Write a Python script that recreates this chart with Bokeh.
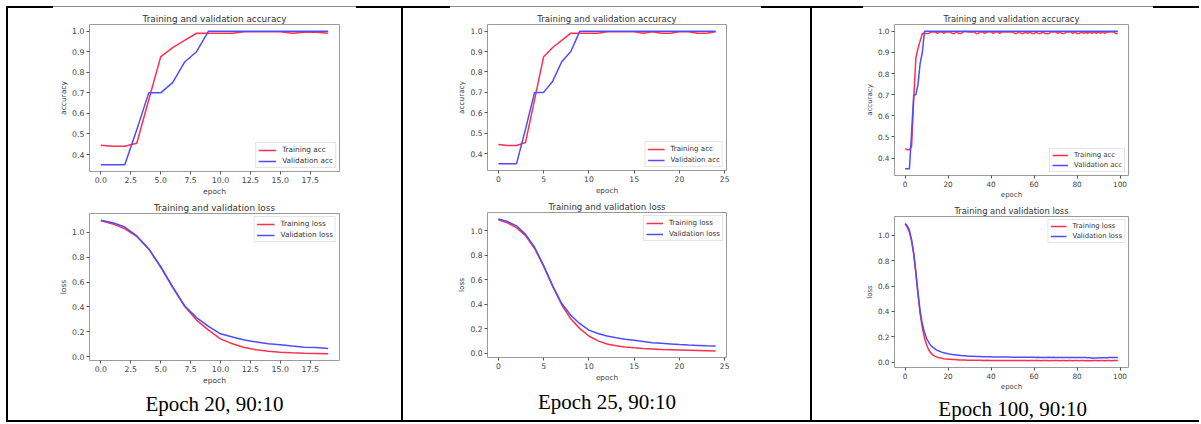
from bokeh.plotting import figure
from bokeh.layouts import row, column
from bokeh.models import Div, Range1d, FixedTicker, PrintfTickFormatter, Label
from bokeh.embed import file_html
from bokeh.resources import INLINE

# ---------------- data ----------------
captions = ["Epoch 20, 90:10", "Epoch 25, 90:10", "Epoch 100, 90:10"]

acc_train_20 = [0.445, 0.44, 0.44, 0.455, 0.665, 0.875, 0.92, 0.955, 0.99, 0.99,
                0.99, 0.99, 0.997, 0.997, 0.997, 0.997, 0.99, 0.995, 0.995, 0.99]
acc_val_20 = [0.35, 0.35, 0.35, 0.52, 0.70, 0.70, 0.75, 0.85, 0.90, 1.0,
              1.0, 1.0, 1.0, 1.0, 1.0, 1.0, 1.0, 1.0, 1.0, 1.0]
loss_train_20 = [1.09, 1.065, 1.025, 0.965, 0.865, 0.725, 0.56, 0.405, 0.295, 0.215,
                 0.145, 0.105, 0.075, 0.057, 0.046, 0.038, 0.033, 0.03, 0.028, 0.025]
loss_val_20 = [1.095, 1.075, 1.04, 0.97, 0.865, 0.72, 0.56, 0.41, 0.315, 0.245,
               0.185, 0.16, 0.135, 0.12, 0.105, 0.097, 0.087, 0.078, 0.075, 0.068]

acc_train_25 = [0.445, 0.44, 0.44, 0.455, 0.665, 0.875, 0.92, 0.955, 0.99, 0.99,
                0.99, 0.99, 0.997, 0.997, 0.997, 0.997, 0.99, 0.997, 0.99, 0.99,
                0.997, 0.997, 0.99, 0.99, 0.997]
acc_val_25 = [0.35, 0.35, 0.35, 0.52, 0.70, 0.70, 0.755, 0.85, 0.90, 1.0,
              1.0, 1.0, 1.0, 1.0, 1.0, 1.0, 1.0, 1.0, 1.0, 1.0,
              1.0, 1.0, 1.0, 1.0, 1.0]
loss_train_25 = [1.09, 1.065, 1.025, 0.96, 0.855, 0.71, 0.545, 0.395, 0.28, 0.2,
                 0.14, 0.1, 0.075, 0.06, 0.05, 0.043, 0.038, 0.034, 0.03, 0.028,
                 0.026, 0.024, 0.022, 0.02, 0.018]
loss_val_25 = [1.095, 1.075, 1.04, 0.97, 0.865, 0.715, 0.55, 0.405, 0.31, 0.24,
               0.188, 0.16, 0.14, 0.125, 0.113, 0.105, 0.095, 0.085, 0.08, 0.075,
               0.07, 0.066, 0.063, 0.06, 0.058]

acc_train_100 = [0.445, 0.44, 0.44, 0.455, 0.68, 0.875, 0.92, 0.955, 0.99, 0.99,
                 0.99, 0.99, 0.997, 0.997, 0.997, 0.99, 0.997, 0.997, 0.99, 0.997,
                 0.997, 0.997, 0.99, 0.99, 0.997, 0.99, 0.99, 0.997, 1.0, 0.997,
                 0.997, 0.997, 0.997, 0.99, 0.99, 0.997, 0.997, 0.99, 0.997, 0.997,
                 0.997, 0.99, 0.997, 0.997, 0.99, 0.997, 0.997, 0.997, 0.997, 0.997,
                 0.997, 0.99, 0.99, 0.997, 0.99, 0.99, 0.997, 0.99, 0.997, 0.99,
                 0.99, 0.997, 0.99, 0.99, 0.997, 0.99, 0.99, 0.99, 0.997, 0.997,
                 0.997, 0.99, 0.997, 0.99, 0.99, 0.997, 0.997, 0.997, 0.99, 0.997,
                 0.99, 0.99, 0.997, 0.99, 0.997, 0.99, 0.997, 0.99, 0.997, 0.99,
                 0.997, 0.99, 0.997, 0.99, 0.997, 0.997, 0.997, 0.997, 0.99, 0.99]
acc_val_100 = [0.35, 0.35, 0.35, 0.52, 0.70, 0.70, 0.75, 0.85, 0.90, 1.0,
               1.0, 1.0, 1.0, 1.0, 1.0, 1.0, 1.0, 1.0, 1.0, 1.0,
               1.0, 1.0, 1.0, 1.0, 1.0, 1.0, 1.0, 1.0, 1.0, 1.0,
               1.0, 1.0, 1.0, 1.0, 1.0, 1.0, 1.0, 1.0, 1.0, 1.0,
               1.0, 1.0, 1.0, 1.0, 1.0, 1.0, 1.0, 1.0, 1.0, 1.0,
               1.0, 1.0, 1.0, 1.0, 1.0, 1.0, 1.0, 1.0, 1.0, 1.0,
               1.0, 1.0, 1.0, 1.0, 1.0, 1.0, 1.0, 1.0, 1.0, 1.0,
               1.0, 1.0, 1.0, 1.0, 1.0, 1.0, 1.0, 1.0, 1.0, 1.0,
               1.0, 1.0, 1.0, 1.0, 1.0, 1.0, 1.0, 1.0, 1.0, 1.0,
               1.0, 1.0, 1.0, 1.0, 1.0, 1.0, 1.0, 1.0, 1.0, 1.0]
loss_train_100 = [1.09, 1.065, 1.025, 0.955, 0.85, 0.70, 0.53, 0.38, 0.27, 0.19,
                  0.135, 0.095, 0.07, 0.055, 0.045, 0.038, 0.033, 0.029, 0.026, 0.024,
                  0.022, 0.021, 0.02, 0.019, 0.018, 0.017, 0.017, 0.016, 0.016, 0.015,
                  0.015, 0.015, 0.014, 0.014, 0.014, 0.014, 0.013, 0.013, 0.014, 0.013,
                  0.013, 0.013, 0.013, 0.012, 0.013, 0.012, 0.012, 0.013, 0.012, 0.012,
                  0.012, 0.012, 0.013, 0.012, 0.012, 0.012, 0.012, 0.011, 0.012, 0.012,
                  0.013, 0.012, 0.012, 0.011, 0.012, 0.012, 0.012, 0.011, 0.012, 0.013,
                  0.012, 0.012, 0.011, 0.012, 0.012, 0.011, 0.012, 0.012, 0.011, 0.012,
                  0.012, 0.011, 0.012, 0.012, 0.011, 0.012, 0.011, 0.011, 0.012, 0.012,
                  0.011, 0.012, 0.012, 0.011, 0.012, 0.012, 0.011, 0.012, 0.012, 0.012]
loss_val_100 = [1.095, 1.075, 1.04, 0.965, 0.86, 0.71, 0.545, 0.40, 0.30, 0.235,
                0.185, 0.155, 0.13, 0.115, 0.102, 0.092, 0.085, 0.078, 0.073, 0.069,
                0.065, 0.062, 0.059, 0.057, 0.055, 0.053, 0.051, 0.05, 0.049, 0.047,
                0.046, 0.045, 0.045, 0.044, 0.043, 0.043, 0.042, 0.042, 0.041, 0.041,
                0.041, 0.04, 0.04, 0.04, 0.04, 0.039, 0.039, 0.039, 0.039, 0.038,
                0.038, 0.038, 0.038, 0.038, 0.037, 0.037, 0.037, 0.037, 0.037, 0.037,
                0.037, 0.036, 0.037, 0.036, 0.036, 0.036, 0.036, 0.037, 0.036, 0.038,
                0.036, 0.036, 0.035, 0.036, 0.035, 0.035, 0.036, 0.035, 0.035, 0.035,
                0.035, 0.035, 0.035, 0.035, 0.035, 0.034, 0.035, 0.03, 0.031, 0.032,
                0.033, 0.033, 0.034, 0.034, 0.034, 0.035, 0.035, 0.035, 0.036, 0.035]

xticks_20 = [0, 2.5, 5, 7.5, 10, 12.5, 15, 17.5]
xticks_25 = [0, 5, 10, 15, 20, 25]
xticks_100 = [0, 20, 40, 60, 80, 100]
acc_yticks = [0.4, 0.5, 0.6, 0.7, 0.8, 0.9, 1.0]
loss_yticks = [0.0, 0.2, 0.4, 0.6, 0.8, 1.0]

RED = "#ff2f4f"
BLUE = "#4d4dff"
FONT = "DejaVu Sans"


def pad_range(vals, frac=0.05):
    lo, hi = min(vals), max(vals)
    d = (hi - lo) * frac
    return Range1d(lo - d, hi + d)


def make_plot(w, h, bl, br, bt, bb, tr, va, kind, xticks, xfmt, scale, legend_loc):
    xs = list(range(len(tr)))
    p = figure(width=w, height=h, min_border_left=bl, min_border_right=br,
               min_border_top=bt, min_border_bottom=bb,
               x_range=pad_range(xs), y_range=pad_range(tr + va),
               output_backend="svg", toolbar_location=None, tools="",
               title="Training and validation " + ("accuracy" if kind == "acc" else "loss"))
    p.title.align = "center"
    p.title.text_font = FONT
    p.title.text_font_style = "normal"
    p.title.text_font_size = "%.1fpx" % (8.9 * scale)
    p.title.text_color = "#333333"
    p.title.standoff = 1
    p.grid.visible = False
    p.outline_line_color = "#9a9a9a"
    p.outline_line_width = 1
    p.background_fill_color = "white"
    p.border_fill_color = "white"

    p.line(xs, tr, line_color=RED, line_width=1.5,
           legend_label="Training " + kind)
    p.line(xs, va, line_color=BLUE, line_width=1.5,
           legend_label="Validation " + kind)

    p.xaxis.ticker = FixedTicker(ticks=xticks)
    p.xaxis.formatter = PrintfTickFormatter(format=xfmt)
    p.yaxis.ticker = FixedTicker(ticks=acc_yticks if kind == "acc" else loss_yticks)
    p.yaxis.formatter = PrintfTickFormatter(format="%.1f")
    p.xaxis.axis_label = "epoch"
    p.yaxis.axis_label = "accuracy" if kind == "acc" else "loss"
    for ax in (p.xaxis, p.yaxis):
        ax.axis_line_color = None
        ax.major_tick_in = 0
        ax.major_tick_out = 3
        ax.major_tick_line_color = "#555555"
        ax.minor_tick_line_color = None
        ax.major_label_standoff = 2
        ax.axis_label_standoff = 1
        ax.major_label_text_font = FONT
        ax.major_label_text_font_size = "%.1fpx" % (7.8 * scale)
        ax.major_label_text_color = "#444444"
        ax.axis_label_text_font = FONT
        ax.axis_label_text_font_style = "normal"
        ax.axis_label_text_font_size = "%.1fpx" % (7.5 * scale)
        ax.axis_label_text_color = "#444444"

    lg = p.legend[0]
    lg.location = legend_loc
    lg.margin = 3
    lg.padding = 2
    lg.spacing = 2
    lg.label_text_font = FONT
    lg.label_text_font_size = "%.1fpx" % (7.3 * scale)
    lg.label_text_color = "#333333"
    lg.label_height = 8
    lg.glyph_height = 8
    lg.glyph_width = int(18 * scale)
    lg.label_standoff = 6
    lg.border_line_color = "#cccccc"
    lg.border_line_width = 1
    lg.background_fill_alpha = 0.85
    return p


def make_caption(w, h, text, cy_from_top, cx_frac):
    p = figure(width=w, height=h, min_border=0, x_range=Range1d(0, 1), y_range=Range1d(0, h),
               x_axis_type=None, y_axis_type=None, output_backend="svg",
               toolbar_location=None, tools="")
    p.outline_line_color = None
    p.grid.visible = False
    p.add_layout(Label(x=cx_frac, y=h - cy_from_top, text=text, text_align="center",
                       text_baseline="middle", text_font="Liberation Serif",
                       text_font_size="21px", text_color="#000000"))
    return p


def bar(w, h, color="black", gradient=False):
    st = {"background-color": color}
    if gradient:
        st = {"background": "linear-gradient(to bottom, #8c8c8c 0px, #8c8c8c 1px, #ffffff 1px, #ffffff 2px)"}
    return Div(text="", width=w, height=h, margin=0, styles=st)


# cell 1
c1a = make_plot(393, 190, 81, 62, 16, 26, acc_train_20, acc_val_20, "acc",
                xticks_20, "%.1f", 1.0, "bottom_right")
c1l = make_plot(393, 189, 81, 62, 15, 26, loss_train_20, loss_val_20, "loss",
                xticks_20, "%.1f", 1.0, "top_right")
c1c = make_caption(393, 33, captions[0], 16, 0.5)
cell1 = column(c1a, c1l, c1c, spacing=0)

# cell 2
c2a = make_plot(407, 189, 84, 84, 16, 26, acc_train_25, acc_val_25, "acc",
                xticks_25, "%d", 0.97, "bottom_right")
c2l = make_plot(407, 187, 84, 84, 15, 26, loss_train_25, loss_val_25, "loss",
                xticks_25, "%d", 0.97, "top_right")
c2c = make_caption(407, 36, captions[1], 17.5, 0.5)
cell2 = column(c2a, c2l, c2c, spacing=0)

# cell 3
c3a = make_plot(387, 193, 81, 71, 16, 25, acc_train_100, acc_val_100, "acc",
                xticks_100, "%d", 0.94, "bottom_right")
c3l = make_plot(387, 192, 82, 71, 15, 26, loss_train_100, loss_val_100, "loss",
                xticks_100, "%d", 0.94, "top_right")
c3c = make_caption(387, 27, captions[2], 15, 0.505)
cell3 = column(c3a, c3l, c3c, spacing=0)

top = row(bar(47, 2), bar(303, 2, gradient=True), bar(94, 2), bar(311, 2, gradient=True),
          bar(102, 2), bar(290, 2, gradient=True), bar(46, 2), spacing=0)
mid = row(bar(2, 412), cell1, bar(2, 412), cell2, bar(2, 412), cell3, spacing=0)
bottom = bar(1193, 2)

root = column(top, mid, bottom, spacing=0, styles={"margin-left": "6px", "margin-top": "6px"})

open("out.html", "w").write(file_html(root, INLINE))
